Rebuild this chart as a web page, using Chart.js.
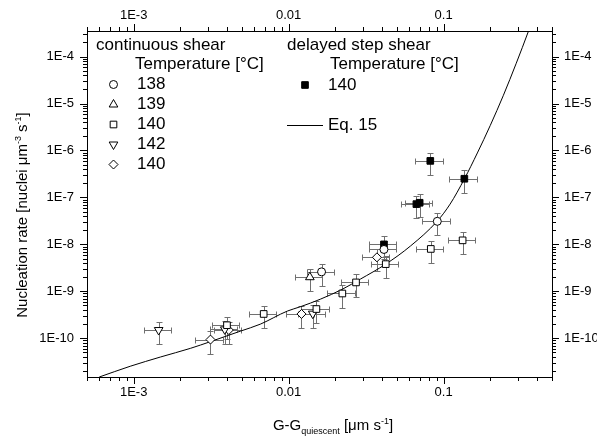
<!DOCTYPE html>
<html><head><meta charset="utf-8">
<script src="https://cdn.jsdelivr.net/npm/chart.js@4/dist/chart.umd.min.js"></script>
<style>html,body{margin:0;padding:0;background:#fff}#wrap{width:597px;height:439px;position:relative}</style>
</head><body><div id="wrap"><canvas id="c" width="597" height="439"></canvas></div>
<script>
const FONT = "'Liberation Sans', Arial, Helvetica, sans-serif";

// ---- data ----
const c138X = [0.091, 0.0412, 0.0163];
const c138Y = [3.1e-8, 7.8e-9, 2.6e-9];
const t139X = [0.0137];
const t139Y = [2.0e-9];
const s140X = [0.0826, 0.1325, 0.0423, 0.0272, 0.0222, 0.0151, 0.0069, 0.0040];
const s140Y = [8.0e-9, 1.22e-8, 3.8e-9, 1.55e-9, 9.0e-10, 4.2e-10, 3.3e-10, 1.9e-10];
const t142X = [0.00145, 0.00387, 0.0143];
const t142Y = [1.5e-10, 1.55e-10, 3.35e-10];
const d140X = [0.00313, 0.00411, 0.0121, 0.0371];
const d140Y = [9.4e-11, 1.5e-10, 3.3e-10, 5.3e-9];
const step140X = [0.082, 0.136, 0.0667, 0.070, 0.0412];
const step140Y = [6.0e-7, 2.5e-7, 7.2e-8, 7.7e-8, 1.0e-8];
const eqX = [6.0e-4, 9.5e-4, 1.49e-3, 2.32e-3, 3.13e-3, 4.88e-3, 6.56e-3, 9.8e-3, 0.0119, 0.016, 0.0222, 0.029, 0.0423, 0.061, 0.091, 0.110, 0.136, 0.165, 0.200, 0.243, 0.294, 0.353, 0.391];
const eqY = [1.5e-11, 2.54e-11, 4.0e-11, 6.1e-11, 8.5e-11, 1.42e-10, 2.0e-10, 3.8e-10, 4.7e-10, 6.8e-10, 1.11e-9, 1.82e-9, 3.8e-9, 9.2e-9, 3.14e-8, 7.2e-8, 2.47e-7, 8.85e-7, 3.43e-6, 1.5e-5, 7.2e-5, 3.52e-4, 9e-4];
const xErrRel = 0.2, yErrUp = 0.5, yErrDown = 0.5;
const xTickVals = [1e-3, 1e-2, 1e-1];
const xTickLabels = ['1E-3', '0.01', '0.1'];
const yTickVals = [1e-10, 1e-9, 1e-8, 1e-7, 1e-6, 1e-5, 1e-4];
const yTickLabels = ['1E-10', '1E-9', '1E-8', '1E-7', '1E-6', '1E-5', '1E-4'];
const legendGroup1 = 'continuous shear';
const legendGroup2 = 'delayed step shear';
const legendSub = 'Temperature [°C]';
const legend1Labels = ['138', '139', '140', '142', '140'];
const legend2Labels = ['140'];
const curveLabel = 'Eq. 15';
const xMin = 5e-4, xMax = 0.5, yMin = 1.5e-11, yMax = 3.5e-4;

// ---- helpers ----
const pts = (xs, ys) => xs.map((x, i) => ({x: x, y: ys[i]}));
function mk(label, xs, ys, style, radius, rot, fill) {
  return {label, data: pts(xs, ys), pointStyle: style, pointRadius: radius, pointRotation: rot,
    pointBackgroundColor: fill, pointBorderColor: '#000', pointBorderWidth: 1,
    backgroundColor: fill, borderColor: '#000', showLine: false, errorBars: true};
}
function fmt(vals, labels) {
  return v => { const i = vals.findIndex(m => Math.abs(Math.log10(m) - Math.log10(v)) < 1e-6); return i >= 0 ? labels[i] : ''; };
}
function mkScale(axis, position, min, max, vals, labels, size, pad) {
  return {type: 'logarithmic', axis, position, min, max,
    grid: {display: false, drawTicks: false}, border: {display: true, color: '#000', width: 1},
    ticks: {autoSkip: false, maxRotation: 0, minRotation: 0, padding: pad, color: '#000',
      font: {family: FONT, size: 13}, callback: fmt(vals, labels)},
    afterBuildTicks: s => { s.ticks = vals.map(v => ({value: v})); },
    afterFit: s => { if (axis === 'x') s.height = size; else s.width = size; }
  };
}

function drawSym(ctx, style, x, y, r, rot, fill) {
  ctx.save();
  ctx.fillStyle = fill; ctx.strokeStyle = '#000'; ctx.lineWidth = 1;
  ctx.beginPath();
  if (style === 'circle') { ctx.arc(x, y, r, 0, Math.PI * 2); }
  else if (style === 'rect') { const s = Math.SQRT1_2 * r; ctx.rect(x - s, y - s, 2 * s, 2 * s); }
  else if (style === 'rectRot') { ctx.moveTo(x - r, y); ctx.lineTo(x, y - r); ctx.lineTo(x + r, y); ctx.lineTo(x, y + r); ctx.closePath(); }
  else if (style === 'triangle') {
    let a = rot * Math.PI / 180;
    ctx.moveTo(x + Math.sin(a) * r, y - Math.cos(a) * r);
    a += 2 * Math.PI / 3; ctx.lineTo(x + Math.sin(a) * r, y - Math.cos(a) * r);
    a += 2 * Math.PI / 3; ctx.lineTo(x + Math.sin(a) * r, y - Math.cos(a) * r);
    ctx.closePath();
  }
  ctx.fill(); ctx.stroke();
  ctx.restore();
}

function richText(ctx, parts, x, y, align) {
  let w = 0;
  parts.forEach(p => { ctx.font = p[1] + 'px ' + FONT; p.w = ctx.measureText(p[0]).width; w += p.w; });
  let cx = align === 'center' ? x - w / 2 : x;
  parts.forEach(p => { ctx.font = p[1] + 'px ' + FONT; ctx.fillText(p[0], cx, y + p[2]); cx += p.w; });
}

const errorBars = {
  id: 'errorBars',
  beforeDatasetsDraw(chart) {
    const ctx = chart.ctx, xs = chart.scales.x, ys = chart.scales.y, a = chart.chartArea;
    ctx.save();
    ctx.beginPath(); ctx.rect(a.left, a.top, a.right - a.left, a.bottom - a.top); ctx.clip();
    ctx.strokeStyle = '#707070'; ctx.lineWidth = 1;
    const R = v => Math.round(v) + 0.5;
    chart.data.datasets.forEach(ds => {
      if (!ds.errorBars) return;
      ds.data.forEach(p => {
        const px = R(xs.getPixelForValue(p.x)), py = R(ys.getPixelForValue(p.y));
        const xl = R(xs.getPixelForValue(p.x * (1 - xErrRel))), xh = R(xs.getPixelForValue(p.x * (1 + xErrRel)));
        const yh = R(ys.getPixelForValue(p.y * (1 + yErrUp))), yl = R(ys.getPixelForValue(p.y * (1 - yErrDown)));
        const c = 3;
        ctx.beginPath();
        ctx.moveTo(xl, py); ctx.lineTo(xh, py);
        ctx.moveTo(xl, py - c); ctx.lineTo(xl, py + c);
        ctx.moveTo(xh, py - c); ctx.lineTo(xh, py + c);
        ctx.moveTo(px, yh); ctx.lineTo(px, yl);
        ctx.moveTo(px - c, yh); ctx.lineTo(px + c, yh);
        ctx.moveTo(px - c, yl); ctx.lineTo(px + c, yl);
        ctx.stroke();
      });
    });
    ctx.restore();
  }
};

const decor = {
  id: 'decor',
  afterDraw(chart) {
    const ctx = chart.ctx, a = chart.chartArea, xs = chart.scales.x, ys = chart.scales.y;
    ctx.save();
    ctx.strokeStyle = '#000'; ctx.lineWidth = 1;
    ctx.beginPath();
    for (let e = -4; e <= 0; e++) for (let m = 1; m <= 9; m++) {
      const v = m * Math.pow(10, e);
      if (v < xMin * 0.999 || v > xMax * 1.001) continue;
      const p = Math.round(xs.getPixelForValue(v)) + 0.5, L = m === 1 ? 7 : 4;
      ctx.moveTo(p, a.bottom); ctx.lineTo(p, a.bottom + L);
      ctx.moveTo(p, a.top); ctx.lineTo(p, a.top - L);
    }
    for (let e = -12; e <= -3; e++) for (let m = 1; m <= 9; m++) {
      const v = m * Math.pow(10, e);
      if (v < yMin * 0.999 || v > yMax * 1.001) continue;
      const p = Math.round(ys.getPixelForValue(v)) + 0.5, L = m === 1 ? 7 : 4;
      ctx.moveTo(a.left, p); ctx.lineTo(a.left - L, p);
      ctx.moveTo(a.right, p); ctx.lineTo(a.right + L, p);
    }
    ctx.stroke();

    // axis titles
    ctx.fillStyle = '#000'; ctx.textBaseline = 'alphabetic';
    richText(ctx, [['G-G', 15, 0], ['quiescent', 9, 4], [' [\u03BCm s', 15, 0], ['-1', 9, -6], [']', 15, 0]], 333, 430, 'center');
    ctx.save();
    ctx.translate(27, 215); ctx.rotate(-Math.PI / 2);
    richText(ctx, [['Nucleation rate [nuclei \u03BCm', 15, 0], ['-3', 9, -6], [' s', 15, 0], ['-1', 9, -6], [']', 15, 0]], 0, 0, 'center');
    ctx.restore();

    // legend
    ctx.textBaseline = 'middle'; ctx.textAlign = 'left';
    ctx.font = '17px ' + FONT;
    ctx.fillText(legendGroup1, 96, 45);
    ctx.fillText(legendSub, 135, 64);
    const syms = [['circle', 4, 0, '#fff'], ['triangle', 5, 0, '#fff'], ['rect', 4.7, 0, '#fff'], ['triangle', 5, 180, '#fff'], ['rectRot', 4.5, 0, '#fff']];
    legend1Labels.forEach((t, i) => {
      const y = 84.5 + i * 20;
      drawSym(ctx, syms[i][0], 113.5, y, syms[i][1], syms[i][2], syms[i][3]);
      ctx.fillStyle = '#000'; ctx.font = '17px ' + FONT;
      ctx.fillText(t, 137, y);
    });
    ctx.fillText(legendGroup2, 287, 45);
    ctx.fillText(legendSub, 330, 64);
    drawSym(ctx, 'rect', 305, 85, 4.7, 0, '#000');
    ctx.fillStyle = '#000'; ctx.font = '17px ' + FONT;
    ctx.fillText(legend2Labels[0], 328, 85);
    ctx.beginPath(); ctx.moveTo(287, 125.5); ctx.lineTo(323, 125.5); ctx.stroke();
    ctx.fillText(curveLabel, 328, 125);
    ctx.restore();
  }
};

new Chart(document.getElementById('c'), {
  type: 'scatter',
  data: {
    datasets: [
      mk('138', c138X, c138Y, 'circle', 4, 0, '#fff'),
      mk('139', t139X, t139Y, 'triangle', 5, 0, '#fff'),
      mk('140', s140X, s140Y, 'rect', 4.7, 0, '#fff'),
      mk('142', t142X, t142Y, 'triangle', 5, 180, '#fff'),
      mk('140', d140X, d140Y, 'rectRot', 4.5, 0, '#fff'),
      mk('140 step', step140X, step140Y, 'rect', 4.7, 0, '#000'),
      {label: curveLabel, data: pts(eqX, eqY), showLine: true, borderColor: '#000', borderWidth: 1,
       pointRadius: 0, fill: false, cubicInterpolationMode: 'monotone'}
    ]
  },
  options: {
    responsive: false, animation: false, devicePixelRatio: 1, events: [],
    layout: {padding: 0},
    plugins: {legend: {display: false}, tooltip: {enabled: false}},
    scales: {
      x: mkScale('x', 'bottom', xMin, xMax, xTickVals, xTickLabels, 62, 8),
      x2: mkScale('x', 'top', xMin, xMax, xTickVals, xTickLabels, 31, 8),
      y: mkScale('y', 'left', yMin, yMax, yTickVals, yTickLabels, 87, 13),
      y2: mkScale('y', 'right', yMin, yMax, yTickVals, yTickLabels, 45, 12)
    }
  },
  plugins: [errorBars, decor]
});
</script></body></html>
